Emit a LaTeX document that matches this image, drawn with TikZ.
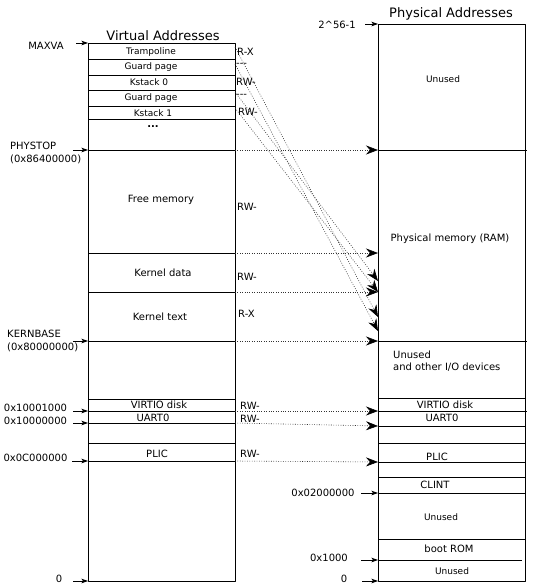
\documentclass[tikz,border=0pt]{standalone}
\usepackage{fontspec}
\setmainfont{DejaVu Sans}
\usetikzlibrary{arrows.meta}
\tikzset{
  box/.style={line width=0.8pt},
  cell/.style={font=\fontsize{9}{11}\selectfont, inner sep=0pt},
  txt/.style={font=\fontsize{10}{12.3}\selectfont, inner sep=0pt},
  ttl/.style={font=\fontsize{13}{15}\selectfont, inner sep=0pt},
  perm/.style={txt, anchor=west},
  tick/.style={-{Stealth[length=6.5pt,width=4.5pt,inset=1.5pt]}, line width=0.7pt},
  map/.style={-{Stealth[length=12pt,width=9pt,inset=4pt,black]}, line width=0.6pt, black!80, dash pattern=on 0.8pt off 1.6pt},
}
\begin{document}
\begin{tikzpicture}[x=1pt, y=-1pt, line join=round]
  \useasboundingbox (0,0) rectangle (539,587);
  \def\vl{88} \def\vr{235} % virtual
  \def\pl{378} \def\pr{525} % physical
  % boxes
  \draw[box] (\vl,43) rectangle (\vr,581);
  \draw[box] (\pl,24) rectangle (\pr,581);
  \foreach \y in {59,75,90,106,119,150,253,292,341,399,411,423,443,461}
    \draw[box] (\vl,\y) -- (\vr,\y);
  \foreach \y in {398,426,443,462,477,493,539}
    \draw[box] (\pl,\y) -- (\pr,\y);
  \foreach \y in {150,341,411}
    \draw[box] (\pl,\y) -- (527,\y);
  \draw[box] (\pl,560) -- (522,560);
  % titles
  \node[ttl] (vtitle) at (163,36) {Virtual Addresses};
  \node[ttl] (ptitle) at (451,14) {Physical Addresses};
  % virtual side
  \node[cell] (tramp) at (151,52.5) {Trampoline};
  \node[cell] (guard0) at (151,67.5) {Guard page};
  \node[cell] (kst0) at (149,82.5) {Kstack 0};
  \node[cell] (guard1) at (151,98.5) {Guard page};
  \node[cell] (kst1) at (153,113) {Kstack 1};
  \node[txt] (dots) at (153,126.5) {\bfseries ...};
  \node[txt] (free) at (161,200) {Free memory};
  \node[txt] (kdata) at (163,273) {Kernel data};
  \node[txt] (ktext) at (160,317) {Kernel text};
  \node[txt] (vvirtio) at (159,405) {VIRTIO disk};
  \node[txt] (vuart) at (153,417.5) {UART0};
  \node[txt] (vplic) at (157,454) {PLIC};
  % permissions
  \node[perm] (p-tramp) at (237,52) {R-X};
  \node[perm] (p-guard0) at (236,65) {-{}-{}-};
  \node[perm] (p-kst0) at (236,82) {RW-};
  \node[perm] (p-guard1) at (236,96) {-{}-{}-};
  \node[perm] (p-kst1) at (238,112) {RW-};
  \node[perm] (p-free) at (237,207) {RW-};
  \node[perm] (p-kdata) at (237,277) {RW-};
  \node[perm] (p-ktext) at (238,314) {R-X};
  \node[perm] (p-virtio) at (240,406) {RW-};
  \node[perm] (p-uart) at (240,419) {RW-};
  \node[perm] (p-plic) at (240,454) {RW-};
  % virtual addresses
  \node[txt] (maxva) at (46,46) {MAXVA};
  \node[txt, anchor=west, align=left] (phystop) at (10,153) {PHYSTOP\\(0x86400000)};
  \node[txt, anchor=west, align=left] (kernbase) at (7,341) {KERNBASE\\(0x80000000)};
  \node[txt] (a10001) at (35.5,408) {0x10001000};
  \node[txt] (a10000) at (35.5,421) {0x10000000};
  \node[txt] (a0c) at (35.5,458) {0x0C000000};
  \node[txt] (vzero) at (59,579) {0};
  \foreach \n/\s/\y in {maxva/76/43, phystop/73/150, kernbase/73/341, a10001/73/411,
                        a10000/73/423, a0c/72/461, vzero/73/581}{
    \coordinate (a-\n) at (\s,\y);
    \coordinate (t-\n) at (\vl,\y);
    \draw[tick] (a-\n) -- (t-\n);
  }
  % physical side
  \node[cell] (unused0) at (443,79) {Unused};
  \node[txt] (ram) at (450,239) {Physical memory (RAM)};
  \node[txt, anchor=west, align=left] (io) at (393,361.5) {Unused\\and other I/O devices};
  \node[txt] (virtio) at (445,405) {VIRTIO disk};
  \node[txt] (uart) at (442,418) {UART0};
  \node[txt] (plic) at (437,457) {PLIC};
  \node[txt] (clint) at (435,485) {CLINT};
  \node[cell] (unused1) at (441,517) {Unused};
  \node[txt] (bootrom) at (449,549) {boot ROM};
  \node[cell] (unused2) at (452,571) {Unused};
  % physical addresses
  \node[txt] (top) at (337,25) {2\textasciicircum{}56-1};
  \node[txt] (a02) at (323,493) {0x02000000};
  \node[txt] (a1000) at (329,558) {0x1000};
  \node[txt] (pzero) at (344,579) {0};
  \foreach \n/\s/\y in {top/365/24, a02/361/493, a1000/361/560, pzero/362/581}{
    \coordinate (a-\n) at (\s,\y);
    \coordinate (t-\n) at (\pl,\y);
    \draw[tick] (a-\n) -- (t-\n);
  }
  % mappings
  \foreach \n/\a/\b in {phystop/150/150, free/253/253, data/292/292, kbase/341/341,
                        virtio/411/411, uart/423/426, plic/461/462,
                        tramp/47/317, guard/64/331, kst0/92/281, kst1/108/292}{
    \coordinate (m-\n) at (\vr,\a);
    \coordinate (q-\n) at (\pl,\b);
    \draw[map] (m-\n) -- (q-\n);
  }
\end{tikzpicture}
\end{document}
